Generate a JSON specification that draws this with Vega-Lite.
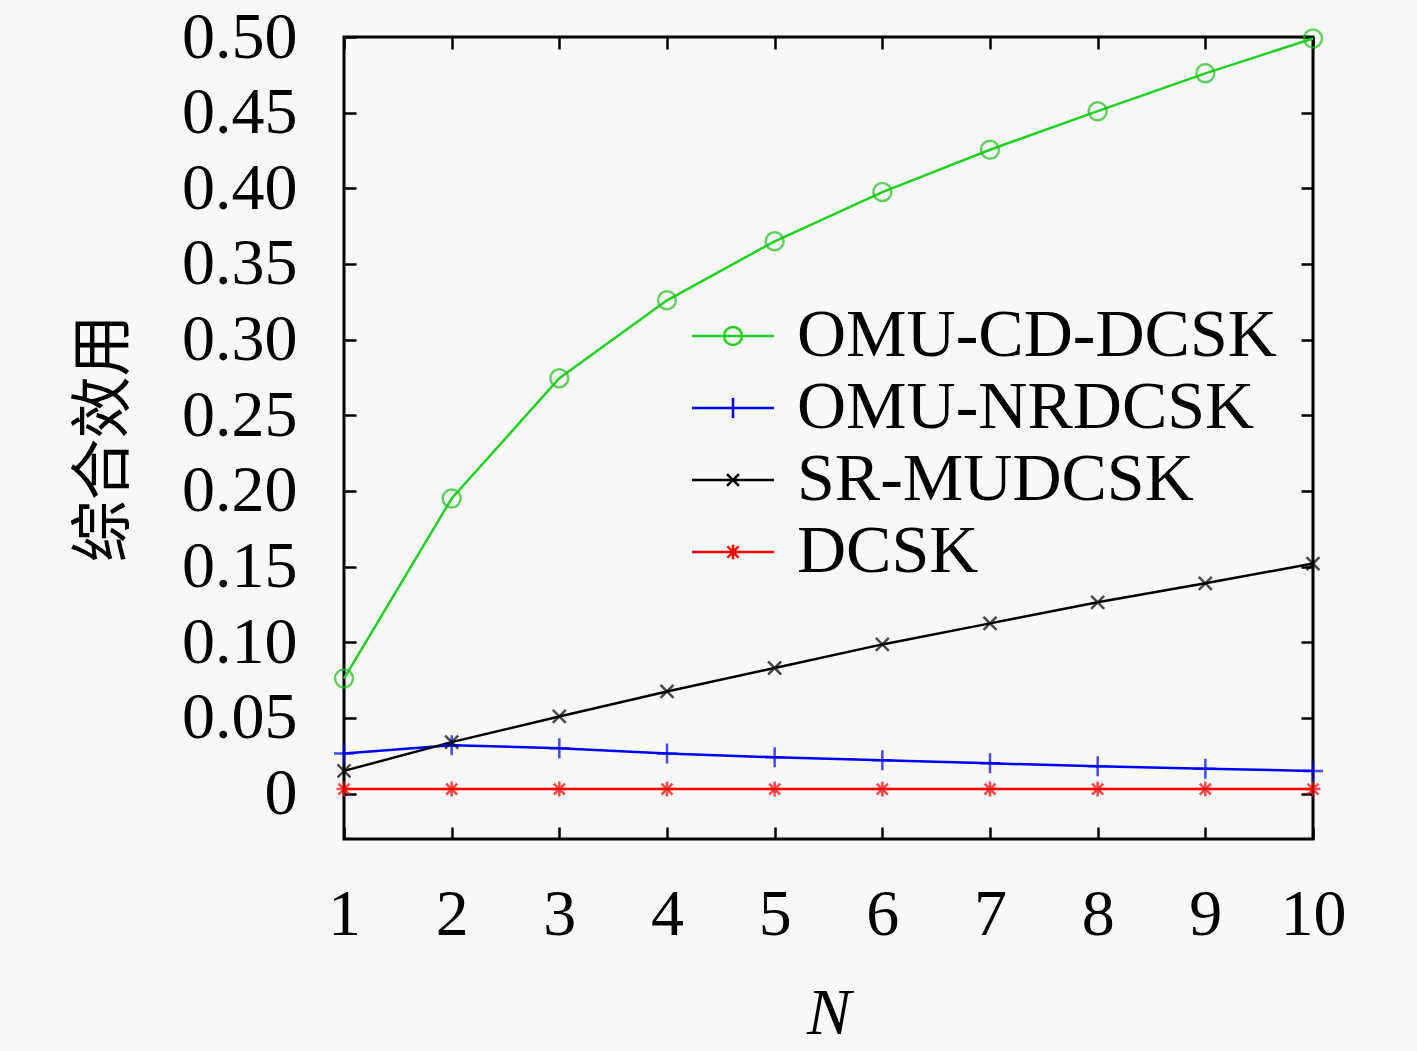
{
  "$schema": "https://vega.github.io/schema/vega-lite/v6.json",
  "width": 969,
  "height": 802,
  "autosize": {"type": "none"},
  "padding": {"left": 344, "top": 37, "right": 104, "bottom": 212},
  "background": "#f8f8f8",
  "config": {
    "view": {"stroke": "black", "strokeWidth": 3},
    "axis": {
      "grid": false,
      "domain": false,
      "tickColor": "black",
      "tickWidth": 2.5,
      "tickSize": -12,
      "labelFont": "Liberation Serif",
      "labelFontSize": 66,
      "labelColor": "black",
      "labelFlush": false,
      "titleColor": "black"
    }
  },
  "data": {
    "values": [
      {"N": 1, "series": "OMU-CD-DCSK", "value": 0.076},
      {"N": 2, "series": "OMU-CD-DCSK", "value": 0.195},
      {"N": 3, "series": "OMU-CD-DCSK", "value": 0.2745},
      {"N": 4, "series": "OMU-CD-DCSK", "value": 0.326},
      {"N": 5, "series": "OMU-CD-DCSK", "value": 0.365},
      {"N": 6, "series": "OMU-CD-DCSK", "value": 0.3975},
      {"N": 7, "series": "OMU-CD-DCSK", "value": 0.4255},
      {"N": 8, "series": "OMU-CD-DCSK", "value": 0.451},
      {"N": 9, "series": "OMU-CD-DCSK", "value": 0.476},
      {"N": 10, "series": "OMU-CD-DCSK", "value": 0.499},
      {"N": 1, "series": "OMU-NRDCSK", "value": 0.0265},
      {"N": 2, "series": "OMU-NRDCSK", "value": 0.032},
      {"N": 3, "series": "OMU-NRDCSK", "value": 0.030},
      {"N": 4, "series": "OMU-NRDCSK", "value": 0.0265},
      {"N": 5, "series": "OMU-NRDCSK", "value": 0.024},
      {"N": 6, "series": "OMU-NRDCSK", "value": 0.022},
      {"N": 7, "series": "OMU-NRDCSK", "value": 0.020},
      {"N": 8, "series": "OMU-NRDCSK", "value": 0.018},
      {"N": 9, "series": "OMU-NRDCSK", "value": 0.0165},
      {"N": 10, "series": "OMU-NRDCSK", "value": 0.015},
      {"N": 1, "series": "SR-MUDCSK", "value": 0.015},
      {"N": 2, "series": "SR-MUDCSK", "value": 0.034},
      {"N": 3, "series": "SR-MUDCSK", "value": 0.051},
      {"N": 4, "series": "SR-MUDCSK", "value": 0.0675},
      {"N": 5, "series": "SR-MUDCSK", "value": 0.083},
      {"N": 6, "series": "SR-MUDCSK", "value": 0.0986},
      {"N": 7, "series": "SR-MUDCSK", "value": 0.1125},
      {"N": 8, "series": "SR-MUDCSK", "value": 0.1264},
      {"N": 9, "series": "SR-MUDCSK", "value": 0.139},
      {"N": 10, "series": "SR-MUDCSK", "value": 0.152},
      {"N": 1, "series": "DCSK", "value": 0.003},
      {"N": 2, "series": "DCSK", "value": 0.003},
      {"N": 3, "series": "DCSK", "value": 0.003},
      {"N": 4, "series": "DCSK", "value": 0.003},
      {"N": 5, "series": "DCSK", "value": 0.003},
      {"N": 6, "series": "DCSK", "value": 0.003},
      {"N": 7, "series": "DCSK", "value": 0.003},
      {"N": 8, "series": "DCSK", "value": 0.003},
      {"N": 9, "series": "DCSK", "value": 0.003},
      {"N": 10, "series": "DCSK", "value": 0.003}
    ]
  },
  "resolve": {
    "scale": {"color": "independent", "shape": "independent"},
    "axis": {"x": "independent", "y": "independent"}
  },
  "layer": [
    {
      "mark": {"type": "line", "strokeWidth": 2.5},
      "encoding": {
        "x": {
          "field": "N", "type": "quantitative",
          "scale": {"domain": [1, 10], "nice": false, "zero": false},
          "axis": {
            "orient": "bottom",
            "values": [1, 2, 3, 4, 5, 6, 7, 8, 9, 10],
            "labelPadding": 55,
            "title": "N",
            "titleFont": "Liberation Serif",
            "titleFontStyle": "italic",
            "titleFontWeight": "normal",
            "titleFontSize": 66,
            "titleBaseline": "alphabetic",
            "titleY": 194
          }
        },
        "y": {
          "field": "value", "type": "quantitative",
          "scale": {"domain": [-0.03, 0.5], "nice": false, "zero": false},
          "axis": {
            "orient": "left",
            "values": [0, 0.05, 0.1, 0.15, 0.2, 0.25, 0.3, 0.35, 0.4, 0.45, 0.5],
            "labelExpr": "datum.value == 0 ? '0' : format(datum.value, '.2f')",
            "labelPadding": 59,
            "title": "综合效用",
            "titleFont": "Noto Sans CJK SC",
            "titleFontWeight": "normal",
            "titleFontSize": 62,
            "titleAngle": -90,
            "titleAlign": "center",
            "titleBaseline": "middle",
            "titleX": -240
          }
        },
        "color": {
          "field": "series", "type": "nominal",
          "scale": {
            "domain": ["OMU-CD-DCSK", "OMU-NRDCSK", "SR-MUDCSK", "DCSK"],
            "range": ["#22d022", "#0000ff", "#000000", "#ff0000"]
          },
          "legend": null
        }
      }
    },
    {
      "mark": {"type": "point", "filled": false, "size": 400, "strokeWidth": 2.5},
      "encoding": {
        "x": {"field": "N", "type": "quantitative", "axis": null},
        "y": {"field": "value", "type": "quantitative", "axis": null},
        "color": {
          "field": "series", "type": "nominal",
          "scale": {
            "domain": ["OMU-CD-DCSK", "OMU-NRDCSK", "SR-MUDCSK", "DCSK"],
            "range": ["#22c022", "#0000ff", "#000000", "#ff0000"]
          },
          "legend": null
        },
        "shape": {
          "field": "series", "type": "nominal",
          "scale": {
            "domain": ["OMU-CD-DCSK", "OMU-NRDCSK", "SR-MUDCSK", "DCSK"],
            "range": [
              "M-0.9,0A0.9,0.9 0 1,1 0.9,0A0.9,0.9 0 1,1 -0.9,0Z",
              "M-1,0H1M0,-1V1",
              "M-0.65,-0.65L0.65,0.65M-0.65,0.65L0.65,-0.65",
              "M-0.75,0H0.75M0,-0.75V0.75M-0.55,-0.55L0.55,0.55M-0.55,0.55L0.55,-0.55"
            ]
          },
          "legend": null
        }
      }
    },
    {
      "mark": {"type": "point", "filled": false, "size": 2116, "strokeWidth": 2.5, "opacity": 0},
      "encoding": {
        "x": {
          "field": "N", "type": "quantitative",
          "axis": {"orient": "top", "values": [1, 2, 3, 4, 5, 6, 7, 8, 9, 10], "labels": false, "title": null}
        },
        "y": {
          "field": "value", "type": "quantitative",
          "axis": {"orient": "right", "values": [0, 0.05, 0.1, 0.15, 0.2, 0.25, 0.3, 0.35, 0.4, 0.45, 0.5], "labels": false, "title": null}
        },
        "color": {
          "field": "series", "type": "nominal",
          "scale": {
            "domain": ["OMU-CD-DCSK", "OMU-NRDCSK", "SR-MUDCSK", "DCSK"],
            "range": ["#22d022", "#0000ff", "#000000", "#ff0000"]
          },
          "legend": {
            "title": null, "orient": "none", "legendX": 355, "legendY": 265,
            "labelFont": "Liberation Serif", "labelFontSize": 68, "labelColor": "black",
            "labelLimit": 0, "labelOffset": 30, "rowPadding": 4, "symbolSize": 2116, "symbolStrokeWidth": 2.5,
            "symbolOpacity": 1,
            "encode": {"symbols": {"update": {"opacity": {"value": 1}}}}
          }
        },
        "shape": {
          "field": "series", "type": "nominal",
          "scale": {
            "domain": ["OMU-CD-DCSK", "OMU-NRDCSK", "SR-MUDCSK", "DCSK"],
            "range": [
              "M-1.78,0H1.78M-0.39,0A0.39,0.39 0 1,1 0.39,0A0.39,0.39 0 1,1 -0.39,0",
              "M-1.78,0H1.78M0,-0.43V0.43",
              "M-1.78,0H1.78M-0.26,-0.26L0.26,0.26M-0.26,0.26L0.26,-0.26",
              "M-1.78,0H1.78M0,-0.32V0.32M-0.24,-0.24L0.24,0.24M-0.24,0.24L0.24,-0.24"
            ]
          },
          "legend": {
            "title": null, "orient": "none", "legendX": 355, "legendY": 265,
            "labelFont": "Liberation Serif", "labelFontSize": 68, "labelColor": "black",
            "labelLimit": 0, "labelOffset": 30, "rowPadding": 4, "symbolSize": 2116, "symbolStrokeWidth": 2.5,
            "symbolOpacity": 1,
            "encode": {"symbols": {"update": {"opacity": {"value": 1}}}}
          }
        }
      }
    }
  ]
}
